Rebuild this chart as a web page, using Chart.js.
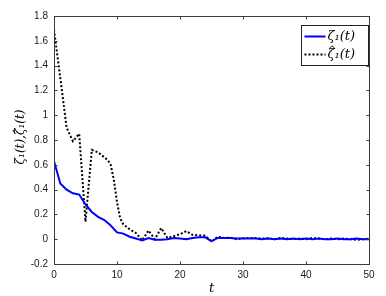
<!DOCTYPE html>
<html>
<head>
<meta charset="utf-8">
<script src="https://cdn.jsdelivr.net/npm/chart.js@4/dist/chart.umd.min.js"></script>
<style>
  html, body { margin: 0; padding: 0; background: #fff; }
  #chart { display: block; }
</style>
</head>
<body>
<canvas id="chart" width="386" height="296"></canvas>
<script>
// zeta_1(t), sampled every unit of t
const tZeta = [0,1,2,3,4,5,6,7,8,9,10,11,12,13,14,15,16,17,18,19,20,21,22,23,24,25,26,27,28,29,30,31,32,33,34,35,36,37,38,39,40,41,42,43,44,45,46,47,48,49,50];
const zeta = [0.63,0.45,0.40,0.37,0.36,0.28,0.22,0.18,0.155,0.11,0.055,0.045,0.02,0.005,-0.01,0.01,-0.005,-0.005,0.0,0.01,0.005,0.0,0.01,0.015,0.015,-0.015,0.01,0.01,0.01,0.005,0.005,0.005,0.005,0.0,0.005,0.0,0.005,0.0,0.005,0.0,0.005,0.0,0.005,0.0,0.0,0.005,0.0,0.0,0.005,0.0,0.0];

// estimate zeta_hat_1(t)
const tZetaHat = [0,1,2,3,4,5,6,7,8,8.5,9,9.5,10,10.5,11,11.5,12,13,14,15,16,17,18,19,20,21,22,23,24,25,26,27,28,29,30,31,32,33,34,35,36,37,38,39,40,41,42,43,44,45,46,47,48,49,50];
const zetaHat = [1.69,1.30,0.90,0.79,0.85,0.14,0.72,0.70,0.66,0.64,0.60,0.48,0.30,0.17,0.12,0.10,0.08,0.05,-0.01,0.07,0.0,0.09,0.01,0.025,0.04,0.065,0.035,0.03,0.03,-0.02,0.02,0.01,0.012,0.0,0.008,0.01,0.01,0.005,0.008,0.0,0.01,0.005,0.0,0.005,0.0,0.01,0.005,0.0,0.005,0.0,0.005,0.0,-0.005,0.0,0.005];

const xTicks = [0,10,20,30,40,50];
const yTicks = [-0.2,0,0.2,0.4,0.6,0.8,1,1.2,1.4,1.6,1.8];

const seriesNames = ['\u03B6\u2081(t)', '\u03B6\u0302\u2081(t)'];
const yTitle = seriesNames.join(',');

const toPoints = (xs, ys) => xs.map((x, i) => ({ x: x, y: ys[i] }));

const mathFont = 'italic 13px "DejaVu Serif"';

// draws text left-to-right from (x, y) (middle baseline); a combining
// circumflex is drawn by hand above the preceding character
function drawMath(ctx, text, x, y, size) {
  const chars = Array.from(text);
  let cx = x;
  chars.forEach((ch, i) => {
    if (ch === '\u0302') return;
    const w = ctx.measureText(ch).width;
    ctx.fillText(ch, cx, y);
    if (chars[i + 1] === '\u0302') {
      const mid = cx + w / 2 + 1;
      const top = y - size * 0.62;
      ctx.save();
      ctx.beginPath();
      ctx.lineWidth = 0.9;
      ctx.strokeStyle = ctx.fillStyle;
      ctx.moveTo(mid - 2.6, top + 1.8);
      ctx.lineTo(mid, top - 0.6);
      ctx.lineTo(mid + 2.6, top + 1.8);
      ctx.stroke();
      ctx.restore();
    }
    cx += w;
  });
}
function mathWidth(ctx, text) {
  return ctx.measureText(text.replace(/\u0302/g, '')).width;
}

// MATLAB-like box with inward ticks on all four sides
const boxPlugin = {
  id: 'box',
  afterDatasetsDraw(chart) {
    const { ctx, chartArea: a, scales } = chart;
    const L = Math.round(a.left) + 0.5, R = Math.round(a.right) + 0.5;
    const T = Math.round(a.top) + 0.5, B = Math.round(a.bottom) + 0.5;
    ctx.save();
    ctx.strokeStyle = '#3a3a3a';
    ctx.lineWidth = 1;
    ctx.strokeRect(L, T, R - L, B - T);
    const len = 3;
    ctx.beginPath();
    xTicks.forEach(v => {
      const px = Math.round(scales.x.getPixelForValue(v)) + 0.5;
      ctx.moveTo(px, B); ctx.lineTo(px, B - len);
      ctx.moveTo(px, T); ctx.lineTo(px, T + len);
    });
    yTicks.forEach(v => {
      const py = Math.round(scales.y.getPixelForValue(v)) + 0.5;
      ctx.moveTo(L, py); ctx.lineTo(L + len, py);
      ctx.moveTo(R, py); ctx.lineTo(R - len, py);
    });
    ctx.stroke();
    ctx.restore();
  }
};

// boxed legend in the upper right corner, plus the rotated y title
const legendPlugin = {
  id: 'boxLegend',
  afterDraw(chart) {
    const { ctx, chartArea: a } = chart;
    const w = 67, h = 40;
    const x0 = Math.round(a.right) - 68 + 0.5, y0 = Math.round(a.top) + 9 + 0.5;
    ctx.save();
    ctx.fillStyle = '#fff';
    ctx.fillRect(x0, y0, w, h);
    ctx.strokeStyle = '#222';
    ctx.lineWidth = 1;
    ctx.strokeRect(x0, y0, w, h);
    ctx.font = mathFont;
    ctx.textBaseline = 'middle';
    ctx.fillStyle = '#000';
    chart.data.datasets.forEach((ds, i) => {
      const yy = y0 + 11 + i * 18;
      ctx.beginPath();
      ctx.strokeStyle = ds.borderColor;
      ctx.lineWidth = ds.borderWidth;
      ctx.setLineDash(ds.borderDash || []);
      ctx.moveTo(x0 + 3, yy);
      ctx.lineTo(x0 + 24, yy);
      ctx.stroke();
      ctx.setLineDash([]);
      drawMath(ctx, ds.label, x0 + 26, yy, 13);
    });

    // y axis title
    ctx.font = 'italic 12px "DejaVu Serif"';
    ctx.translate(21, (a.top + a.bottom) / 2 - 3);
    ctx.rotate(-Math.PI / 2);
    drawMath(ctx, yTitle, -mathWidth(ctx, yTitle) / 2, 0, 12);
    ctx.restore();
  }
};

new Chart(document.getElementById('chart'), {
  type: 'line',
  data: {
    datasets: [
      {
        label: seriesNames[0],
        data: toPoints(tZeta, zeta),
        borderColor: '#0000ff',
        borderWidth: 2,
        pointRadius: 0,
        tension: 0,
        fill: false
      },
      {
        label: seriesNames[1],
        data: toPoints(tZetaHat, zetaHat),
        borderColor: '#000000',
        borderWidth: 2,
        borderDash: [2, 2],
        pointRadius: 0,
        tension: 0,
        fill: false
      }
    ]
  },
  options: {
    responsive: false,
    devicePixelRatio: 1,
    animation: false,
    layout: { padding: { top: 16, right: 17, left: 0, bottom: 0 } },
    plugins: {
      legend: { display: false },
      tooltip: { enabled: false }
    },
    scales: {
      x: {
        type: 'linear',
        min: 0,
        max: 50,
        afterBuildTicks: s => { s.ticks = xTicks.map(v => ({ value: v })); },
        afterFit: s => { s.height = 32; },
        grid: { display: false, drawTicks: false },
        border: { display: false },
        ticks: { color: '#1a1a1a', padding: 5, font: { family: '"Liberation Sans"', size: 10 }, maxRotation: 0 },
        title: { display: true, text: 't', color: '#000', padding: { top: 2, bottom: 0 }, font: { family: '"DejaVu Serif"', style: 'italic', size: 13 } }
      },
      y: {
        type: 'linear',
        min: -0.2,
        max: 1.8,
        afterBuildTicks: s => { s.ticks = yTicks.map(v => ({ value: v })); },
        afterFit: s => { s.width = 54; },
        grid: { display: false, drawTicks: false },
        border: { display: false },
        ticks: {
          color: '#1a1a1a',
          padding: 6,
          font: { family: '"Liberation Sans"', size: 10 },
          callback: v => String(Number(v.toFixed(1)))
        }
      }
    }
  },
  plugins: [boxPlugin, legendPlugin]
});
</script>
</body>
</html>
